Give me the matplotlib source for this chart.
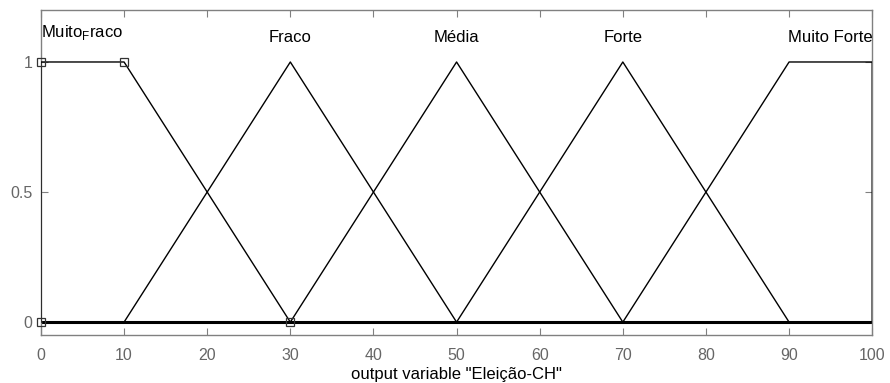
import matplotlib
matplotlib.use("Agg")
from matplotlib import pyplot as plt

plt.rcParams['font.family'] = ['Liberation Sans', 'DejaVu Sans']
plt.rcParams['mathtext.fontset'] = 'custom'
plt.rcParams['mathtext.rm'] = 'Liberation Sans'

# membership functions of output variable "Eleição-CH"
mf_names = ["Muito$_\\mathrm{F}$raco", "Fraco", "Média", "Forte", "Muito Forte"]
mf_x = [[0, 0, 10, 30],
        [10, 30, 50],
        [30, 50, 70],
        [50, 70, 90],
        [70, 90, 100, 100]]
mf_y = [[0, 1, 1, 0],
        [0, 1, 0],
        [0, 1, 0],
        [0, 1, 0],
        [0, 1, 1, 0]]
label_x = [0, 30, 50, 70, 100]
label_y = [1.096, 1.077, 1.077, 1.077, 1.077]
label_ha = ["left", "center", "center", "center", "right"]

fig = plt.figure(figsize=(8.9, 3.83), dpi=100)
ax = fig.add_axes([0.046, 0.125, 0.934, 0.849])

# baseline
ax.plot([0, 100], [0, 0], color="black", lw=2.2, zorder=2)
for xs, ys in zip(mf_x, mf_y):
    ax.plot(xs, ys, color="black", lw=1.0, zorder=3)

# selected MF points
ax.plot(mf_x[0], mf_y[0], ls="none", marker="s", ms=6, mfc="none",
        mec="#333333", mew=0.9, zorder=4, clip_on=False)

for name, lx, ly, ha in zip(mf_names, label_x, label_y, label_ha):
    ax.text(lx, ly, name, ha=ha, va="baseline", fontsize=12, color="black")

ax.set_xlim(0, 100)
ax.set_ylim(-0.05, 1.2)
ax.set_xticks(range(0, 101, 10))
ax.set_yticks([0, 0.5, 1])
ax.set_yticklabels(["0", "0.5", "1"])
ax.tick_params(direction="in", top=True, right=True, length=5, width=0.8,
               colors="#808080", labelsize=11.5)
ax.tick_params(axis="x", pad=9)
ax.tick_params(axis="y", pad=6)
for tl in ax.get_xticklabels() + ax.get_yticklabels():
    tl.set_color("#666666")
for s in ax.spines.values():
    s.set_color("#808080")
    s.set_linewidth(1.0)

ax.set_xlabel('output variable "Eleição-CH"', fontsize=12, labelpad=3)

fig.savefig("out.png", dpi=100)
